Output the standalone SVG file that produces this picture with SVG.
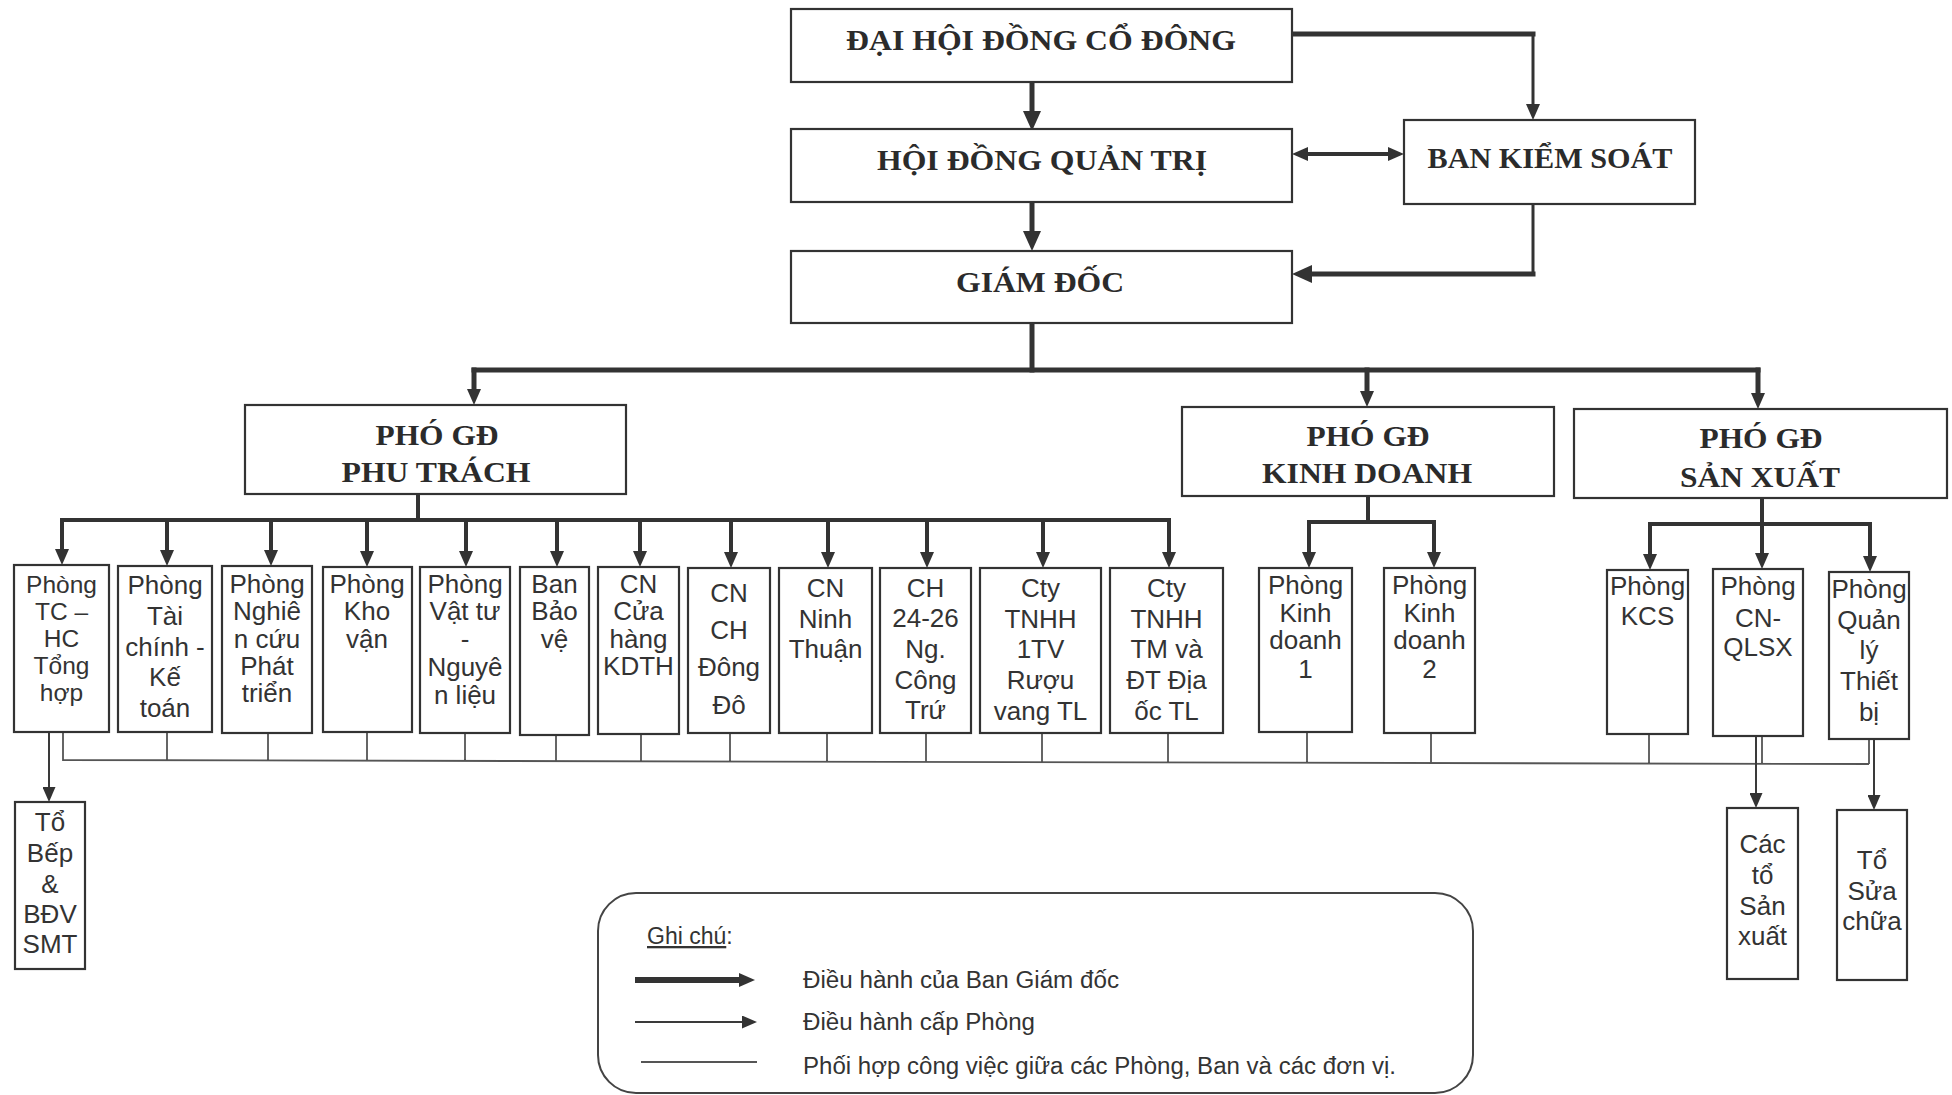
<svg xmlns="http://www.w3.org/2000/svg" width="1952" height="1095" viewBox="0 0 1952 1095">
<defs>
<style>
.box{fill:#fff;stroke:#333;stroke-width:2.2}
.t{font-family:"Liberation Serif","Times New Roman",serif;font-weight:bold;font-size:30px;fill:#2b2b2b;text-anchor:middle}
.l{font-family:"Liberation Sans",Arial,sans-serif;font-size:26px;fill:#333;text-anchor:middle}
.s{font-size:24.5px}
.g{font-family:"Liberation Sans",Arial,sans-serif;font-size:23px;fill:#333}
.k{stroke:#333;fill:none;stroke-width:5;stroke-linecap:square}
.k4{stroke:#333;fill:none;stroke-width:4;stroke-linecap:square}
.m{stroke:#333;fill:none;stroke-width:3}
.n{stroke:#3a3a3a;fill:none;stroke-width:2}
.c{stroke:#555;fill:none;stroke-width:1.8}
.leg{fill:none;stroke:#444;stroke-width:2}
</style>
<marker id="ah" viewBox="0 0 20 18" refX="2" refY="9" markerWidth="20" markerHeight="18" markerUnits="userSpaceOnUse" orient="auto"><path d="M0,0 L20,9 L0,18 z" fill="#333"/></marker>
<marker id="ahm" viewBox="0 0 16 14" refX="2" refY="7" markerWidth="16" markerHeight="14" markerUnits="userSpaceOnUse" orient="auto-start-reverse"><path d="M0,0 L16,7 L0,14 z" fill="#333"/></marker>
<marker id="aht" viewBox="0 0 15 13" refX="1" refY="6.5" markerWidth="15" markerHeight="13" markerUnits="userSpaceOnUse" orient="auto"><path d="M0,0 L15,6.5 L0,13 z" fill="#333"/></marker>
</defs>
<rect width="1952" height="1095" fill="#fff"/>

<g id="connectors">
  <path class="k" d="M1032,82 V113" marker-end="url(#ah)"/>
  <path class="k" d="M1032,202 V233" marker-end="url(#ah)"/>
  <path class="k" d="M1292,34 H1533"/>
  <path class="m" d="M1533,34 V106" marker-end="url(#ahm)"/>
  <path class="k4" d="M1306,154 H1390" marker-start="url(#ahm)" marker-end="url(#ahm)"/>
  <path class="m" d="M1533,204 V274"/>
  <path class="k" d="M1533,274 H1310" marker-end="url(#ah)"/>
  <path class="k" d="M1032,323 V370"/>
  <path class="k" d="M474,370 H1758"/>
  <path class="k" d="M474,370 V391" marker-end="url(#ahm)"/>
  <path class="k" d="M1367,370 V393" marker-end="url(#ahm)"/>
  <path class="k" d="M1758,370 V395" marker-end="url(#ahm)"/>
  <path class="k4" d="M418,494 V520"/>
  <path class="k4" d="M62,520 H1169"/>
  <path class="k4" d="M62,520 V551" marker-end="url(#ahm)"/>
  <path class="k4" d="M167,520 V552" marker-end="url(#ahm)"/>
  <path class="k4" d="M271,520 V552" marker-end="url(#ahm)"/>
  <path class="k4" d="M367,520 V553" marker-end="url(#ahm)"/>
  <path class="k4" d="M466,520 V553" marker-end="url(#ahm)"/>
  <path class="k4" d="M557,520 V553" marker-end="url(#ahm)"/>
  <path class="k4" d="M640,520 V553" marker-end="url(#ahm)"/>
  <path class="k4" d="M731,520 V554" marker-end="url(#ahm)"/>
  <path class="k4" d="M828,520 V554" marker-end="url(#ahm)"/>
  <path class="k4" d="M927,520 V554" marker-end="url(#ahm)"/>
  <path class="k4" d="M1043,520 V554" marker-end="url(#ahm)"/>
  <path class="k4" d="M1169,520 V554" marker-end="url(#ahm)"/>
  <path class="k4" d="M1368,496 V522"/>
  <path class="k4" d="M1309,522 H1434"/>
  <path class="k4" d="M1309,522 V554" marker-end="url(#ahm)"/>
  <path class="k4" d="M1434,522 V554" marker-end="url(#ahm)"/>
  <path class="k4" d="M1762,498 V555" marker-end="url(#ahm)"/>
  <path class="k4" d="M1650,524 H1870"/>
  <path class="k4" d="M1650,524 V556" marker-end="url(#ahm)"/>
  <path class="k4" d="M1870,524 V558" marker-end="url(#ahm)"/>
  <path class="c" d="M63,732 V760 L1869,764 M167,732 V760.2 M268,733 V760.5 M367,732 V760.7 M465,733 V760.9 M556,735 V761.1 M641,734 V761.3 M730,733 V761.5 M827,733 V761.7 M926,733 V761.9 M1042,733 V762.2 M1168,733 V762.4 M1307,732 V762.8 M1431,733 V763 M1649,734 V763.5 M1762,736 V763.8 M1869,739 V764"/>
  <path class="n" d="M49,732 V788" marker-end="url(#aht)"/>
  <path class="n" d="M1756,736 V794" marker-end="url(#aht)"/>
  <path class="n" d="M1874,739 V796" marker-end="url(#aht)"/>
</g>

<g id="dai-hoi-dong-co-dong"><rect class="box" x="791" y="9" width="501" height="73"/><text class="t" x="1041" y="50" textLength="390" lengthAdjust="spacingAndGlyphs">ĐẠI HỘI ĐỒNG CỔ ĐÔNG</text></g>
<g id="hoi-dong-quan-tri"><rect class="box" x="791" y="129" width="501" height="73"/><text class="t" x="1042" y="170" textLength="330" lengthAdjust="spacingAndGlyphs">HỘI ĐỒNG QUẢN TRỊ</text></g>
<g id="ban-kiem-soat"><rect class="box" x="1404" y="120" width="291" height="84"/><text class="t" x="1550" y="168" textLength="245" lengthAdjust="spacingAndGlyphs">BAN KIỂM SOÁT</text></g>
<g id="giam-doc"><rect class="box" x="791" y="251" width="501" height="72"/><text class="t" x="1040" y="292" textLength="168" lengthAdjust="spacingAndGlyphs">GIÁM ĐỐC</text></g>

<g id="pho-gd-phu-trach"><rect class="box" x="245" y="405" width="381" height="89"/><text class="t"><tspan x="437" y="445" textLength="123" lengthAdjust="spacingAndGlyphs">PHÓ GĐ</tspan><tspan x="436" y="482" textLength="189" lengthAdjust="spacingAndGlyphs">PHU TRÁCH</tspan></text></g>
<g id="pho-gd-kinh-doanh"><rect class="box" x="1182" y="407" width="372" height="89"/><text class="t"><tspan x="1368" y="446" textLength="123" lengthAdjust="spacingAndGlyphs">PHÓ GĐ</tspan><tspan x="1367" y="483" textLength="210" lengthAdjust="spacingAndGlyphs">KINH DOANH</tspan></text></g>
<g id="pho-gd-san-xuat"><rect class="box" x="1574" y="409" width="373" height="89"/><text class="t"><tspan x="1761" y="448" textLength="123" lengthAdjust="spacingAndGlyphs">PHÓ GĐ</tspan><tspan x="1760" y="487" textLength="160" lengthAdjust="spacingAndGlyphs">SẢN XUẤT</tspan></text></g>

<g id="phong-tc-hc"><rect class="box" x="14" y="565" width="95" height="167"/><text class="l s"><tspan x="61.5" y="593">Phòng</tspan><tspan x="61.5" y="620">TC –</tspan><tspan x="61.5" y="647">HC</tspan><tspan x="61.5" y="674">Tổng</tspan><tspan x="61.5" y="701">hợp</tspan></text></g>
<g id="phong-tai-chinh"><rect class="box" x="118" y="566" width="94" height="166"/><text class="l"><tspan x="165" y="594">Phòng</tspan><tspan x="165" y="625">Tài</tspan><tspan x="165" y="656">chính -</tspan><tspan x="165" y="686">Kế</tspan><tspan x="165" y="717">toán</tspan></text></g>
<g id="phong-nghien-cuu"><rect class="box" x="222" y="566" width="90" height="167"/><text class="l"><tspan x="267" y="593">Phòng</tspan><tspan x="267" y="620">Nghiê</tspan><tspan x="267" y="648">n cứu</tspan><tspan x="267" y="675">Phát</tspan><tspan x="267" y="702">triển</tspan></text></g>
<g id="phong-kho-van"><rect class="box" x="323" y="567" width="89" height="165"/><text class="l"><tspan x="367" y="593">Phòng</tspan><tspan x="367" y="620">Kho</tspan><tspan x="367" y="648">vận</tspan></text></g>
<g id="phong-vat-tu"><rect class="box" x="420" y="567" width="90" height="166"/><text class="l"><tspan x="465" y="593">Phòng</tspan><tspan x="465" y="620">Vật tư</tspan><tspan x="465" y="648">-</tspan><tspan x="465" y="676">Nguyê</tspan><tspan x="465" y="704">n liệu</tspan></text></g>
<g id="ban-bao-ve"><rect class="box" x="520" y="567" width="69" height="168"/><text class="l"><tspan x="554.5" y="593">Ban</tspan><tspan x="554.5" y="620">Bảo</tspan><tspan x="554.5" y="648">vệ</tspan></text></g>
<g id="cn-cua-hang-kdth"><rect class="box" x="598" y="567" width="81" height="167"/><text class="l"><tspan x="638.5" y="593">CN</tspan><tspan x="638.5" y="620">Cửa</tspan><tspan x="638.5" y="648">hàng</tspan><tspan x="638.5" y="675">KDTH</tspan></text></g>
<g id="cn-ch-dong-do"><rect class="box" x="688" y="568" width="82" height="165"/><text class="l"><tspan x="729" y="602">CN</tspan><tspan x="729" y="639">CH</tspan><tspan x="729" y="676">Đông</tspan><tspan x="729" y="714">Đô</tspan></text></g>
<g id="cn-ninh-thuan"><rect class="box" x="779" y="568" width="93" height="165"/><text class="l"><tspan x="825.5" y="597">CN</tspan><tspan x="825.5" y="628">Ninh</tspan><tspan x="825.5" y="658">Thuận</tspan></text></g>
<g id="ch-cong-tru"><rect class="box" x="880" y="568" width="91" height="165"/><text class="l"><tspan x="925.5" y="597">CH</tspan><tspan x="925.5" y="627">24-26</tspan><tspan x="925.5" y="658">Ng.</tspan><tspan x="925.5" y="689">Công</tspan><tspan x="925.5" y="719">Trứ</tspan></text></g>
<g id="cty-ruou-vang"><rect class="box" x="980" y="568" width="121" height="165"/><text class="l"><tspan x="1040.5" y="597">Cty</tspan><tspan x="1040.5" y="628">TNHH</tspan><tspan x="1040.5" y="658">1TV</tspan><tspan x="1040.5" y="689">Rượu</tspan><tspan x="1040.5" y="720">vang TL</tspan></text></g>
<g id="cty-dia-oc"><rect class="box" x="1110" y="568" width="113" height="165"/><text class="l"><tspan x="1166.5" y="597">Cty</tspan><tspan x="1166.5" y="628">TNHH</tspan><tspan x="1166.5" y="658">TM và</tspan><tspan x="1166.5" y="689">ĐT Địa</tspan><tspan x="1166.5" y="720">ốc TL</tspan></text></g>
<g id="phong-kinh-doanh-1"><rect class="box" x="1259" y="568" width="93" height="164"/><text class="l"><tspan x="1305.5" y="594">Phòng</tspan><tspan x="1305.5" y="622">Kinh</tspan><tspan x="1305.5" y="649">doanh</tspan><tspan x="1305.5" y="678">1</tspan></text></g>
<g id="phong-kinh-doanh-2"><rect class="box" x="1384" y="568" width="91" height="165"/><text class="l"><tspan x="1429.5" y="594">Phòng</tspan><tspan x="1429.5" y="622">Kinh</tspan><tspan x="1429.5" y="649">doanh</tspan><tspan x="1429.5" y="678">2</tspan></text></g>
<g id="phong-kcs"><rect class="box" x="1607" y="570" width="81" height="164"/><text class="l"><tspan x="1647.5" y="595">Phòng</tspan><tspan x="1647.5" y="625">KCS</tspan></text></g>
<g id="phong-cn-qlsx"><rect class="box" x="1713" y="569" width="90" height="167"/><text class="l"><tspan x="1758" y="595">Phòng</tspan><tspan x="1758" y="627">CN-</tspan><tspan x="1758" y="656">QLSX</tspan></text></g>
<g id="phong-quan-ly-thiet-bi"><rect class="box" x="1829" y="572" width="80" height="167"/><text class="l"><tspan x="1869" y="598">Phòng</tspan><tspan x="1869" y="629">Quản</tspan><tspan x="1869" y="659">lý</tspan><tspan x="1869" y="690">Thiết</tspan><tspan x="1869" y="721">bị</tspan></text></g>

<g id="to-bep"><rect class="box" x="15" y="802" width="70" height="167"/><text class="l"><tspan x="50" y="831">Tổ</tspan><tspan x="50" y="862">Bếp</tspan><tspan x="50" y="893">&amp;</tspan><tspan x="50" y="923">BĐV</tspan><tspan x="50" y="953">SMT</tspan></text></g>
<g id="cac-to-san-xuat"><rect class="box" x="1727" y="808" width="71" height="171"/><text class="l"><tspan x="1762.5" y="853">Các</tspan><tspan x="1762.5" y="884">tổ</tspan><tspan x="1762.5" y="915">Sản</tspan><tspan x="1762.5" y="945">xuất</tspan></text></g>
<g id="to-sua-chua"><rect class="box" x="1837" y="810" width="70" height="170"/><text class="l"><tspan x="1872" y="869">Tổ</tspan><tspan x="1872" y="900">Sửa</tspan><tspan x="1872" y="930">chữa</tspan></text></g>

<g id="legend">
  <rect class="leg" x="598" y="893" width="875" height="200" rx="38" ry="38"/>
  <text class="g" x="647" y="944"><tspan text-decoration="underline">Ghi chú</tspan>:</text>
  <path d="M635,980 H741" stroke="#333" stroke-width="6" fill="none" marker-end="url(#ahm)"/>
  <text class="g" x="803" y="988" textLength="316" lengthAdjust="spacingAndGlyphs">Điều hành của Ban Giám đốc</text>
  <path class="n" d="M635,1022 H743" marker-end="url(#aht)"/>
  <text class="g" x="803" y="1030" textLength="232" lengthAdjust="spacingAndGlyphs">Điều hành cấp Phòng</text>
  <path class="c" d="M641,1062 H757"/>
  <text class="g" x="803" y="1074" textLength="593" lengthAdjust="spacingAndGlyphs">Phối hợp công việc giữa các Phòng, Ban và các đơn vị.</text>
</g>
</svg>
